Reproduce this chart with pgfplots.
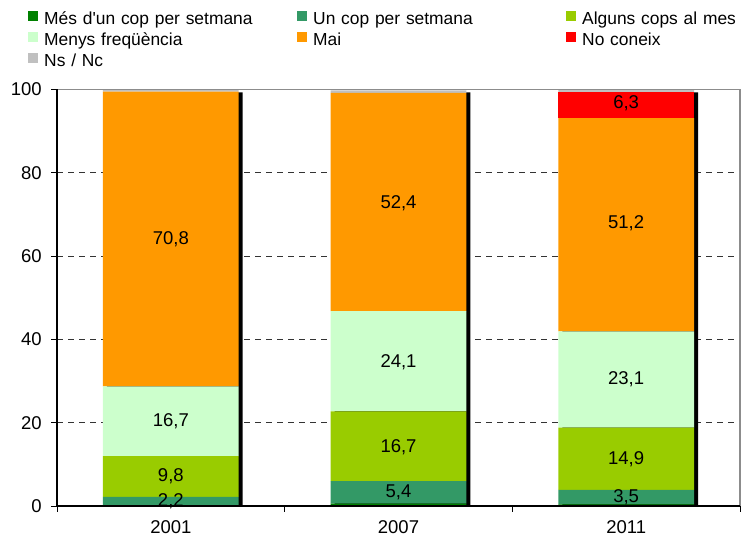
\documentclass[border=0pt]{standalone}
\usepackage{fontspec}
\setmainfont{Liberation Sans}
\usepackage{pgfplots}
\pgfplotsset{compat=1.18}
\definecolor{cA}{RGB}{0,128,0}
\definecolor{cB}{RGB}{51,153,102}
\definecolor{cC}{RGB}{153,204,0}
\definecolor{cD}{RGB}{204,255,204}
\definecolor{cE}{RGB}{255,153,0}
\definecolor{cF}{RGB}{255,0,0}
\definecolor{cG}{RGB}{192,192,192}
\newcommand{\chfont}{\fontsize{18.5bp}{21bp}\selectfont}
\newcommand{\sq}{\XeTeXglyph\XeTeXglyphindex "quotesingle"\relax}
\begin{document}
\chfont
\begin{tikzpicture}
\path[use as bounding box] (-57bp,-37bp) rectangle (684bp,506bp);
\pgfplotsset{base/.style={scale only axis, width=683bp, height=416.5bp,
  xmin=0.5, xmax=3.5, ymin=0, ymax=100, at={(0,0)}, anchor=south west,
  /pgf/number format/assume math mode=true,
  tick label style={font=\chfont}}}
% shadows and grid
\begin{axis}[base, ybar, bar width=135.7bp, bar shift=4bp,
  axis line style={draw=none}, ytick={20,40,60,80}, yticklabels={},
  xtick=\empty, ymajorgrids, major tick length=0pt,
  grid style={black!80, dash pattern=on 6bp off 5bp, line width=0.8bp}]
\addplot[fill=black, draw=none] coordinates {(1,99.3) (2,99.3) (3,99.3)};
\end{axis}
% stacked bars
\begin{axis}[base, ybar stacked, bar width=135.7bp,
  axis line style={draw=none}, ytick=\empty,
  xtick={1,2,3}, xticklabels={2001,2007,2011}, major tick length=0pt,
  xticklabel style={yshift=-8bp},
  legend columns=3,
  legend style={draw=none, fill=none, at={(0,1)}, anchor=north west,
    xshift=-29bp, yshift=80bp, inner sep=0pt, column sep=0pt, row sep=0pt,
    font=\fontsize{17.4bp}{21bp}\selectfont,
    nodes={inner xsep=6bp, inner ysep=0pt, text height=15bp, text depth=6bp,
      text width=247bp, align=left, anchor=west}},
  legend image code/.code={\fill[#1] (0bp,-1bp) rectangle (10bp,9bp);}]
\addplot[fill=cA, draw=none] coordinates {(1,0) (2,0.6) (3,0.4)};
\addlegendentry{Més d\sq un cop per setmana}
\addplot[fill=cB, draw=none] coordinates {(1,2.2) (2,5.4) (3,3.5)};
\addlegendentry{Un cop per setmana}
\addplot[fill=cC, draw=none] coordinates {(1,9.8) (2,16.7) (3,14.9)};
\addlegendentry{Alguns cops al mes}
\addplot[fill=cD, draw=none] coordinates {(1,16.7) (2,24.1) (3,23.1)};
\addlegendentry{Menys freqüència}
\addplot[fill=cE, draw=none] coordinates {(1,70.8) (2,52.4) (3,51.2)};
\addlegendentry{Mai}
\addplot[fill=cF, draw=none] coordinates {(1,0) (2,0) (3,6.3)};
\addlegendentry{No coneix}
\addplot[fill=cG, draw=none] coordinates {(1,0.5) (2,0.6) (3,0.6)};
\addlegendentry{Ns / Nc}
\end{axis}
% labels, axis lines, ticks
\begin{axis}[base, clip=false, axis line style={draw=none},
  ytick={0,20,...,100}, xtick={0.5,1.5,2.5,3.5}, xticklabels={},
  tick align=outside, xtick pos=bottom, ytick pos=left,
  major tick length=6bp, tick style={black, line width=0.9bp},
  yticklabel style={xshift=-3bp}]
\addplot[only marks, mark=*, mark size=0pt, mark options={draw=none, fill=none},
  nodes near coords, point meta=explicit symbolic,
  every node near coord/.append style={anchor=center, font=\chfont, text=black}]
  table[meta=lab] {
x y lab
1 1.1 {2,2}
1 7.1 {9,8}
1 20.35 {16,7}
1 64.1 {70,8}
2 3.3 {5,4}
2 14.05 {16,7}
2 34.45 {24,1}
2 72.7 {52,4}
3 2.15 {3,5}
3 11.35 {14,9}
3 30.35 {23,1}
3 67.9 {51,2}
3 96.65 {6,3}
};
\draw[black!45, line width=1.2bp] (rel axis cs:0,1) -- (rel axis cs:1,1) -- (rel axis cs:1,0);
\draw[black, line width=1.1bp] (rel axis cs:0,1) -- (rel axis cs:0,0) -- (rel axis cs:1,0);
\end{axis}
\end{tikzpicture}
\end{document}
